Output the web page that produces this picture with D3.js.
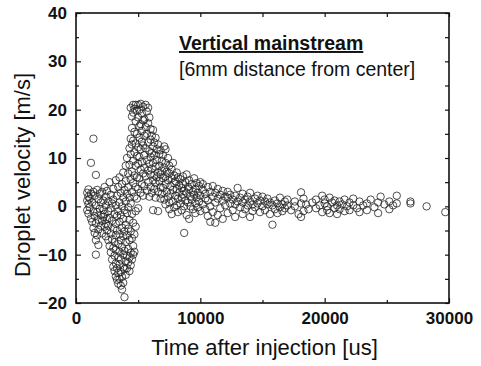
<!DOCTYPE html>
<html>
<head>
<meta charset="utf-8">
<script src="https://cdn.jsdelivr.net/npm/d3@7"></script>
<style>
  body { margin: 0; background: #fff; }
  svg { display: block; font-family: 'Liberation Sans', Arial, sans-serif; }
  .tick text { font-size: 17px; font-weight: bold; fill: #111; }
  .tick line { stroke: #111; stroke-width: 1.2; }
</style>
</head>
<body>
<div id="chart"></div>
<script>
// sample times [us] and the droplet velocities [m/s] read at each time
const sampleTimes = [
  900, 1000, 1100, 1200, 1300, 1400, 1500, 1600, 1700, 1800, 1900,
  2000, 2100, 2200, 2300, 2400, 2500, 2600, 2700, 2800, 2900,
  3000, 3100, 3200, 3300, 3400, 3500, 3600, 3700, 3800, 3900,
  4000, 4100, 4200, 4300, 4400, 4500, 4600, 4700, 4800, 4900,
  5000, 5100, 5200, 5300, 5400, 5500, 5600, 5700, 5800, 5900,
  6000, 6100, 6200, 6300, 6400, 6500, 6600, 6700, 6800, 6900,
  7000, 7100, 7200, 7300, 7400, 7500, 7600, 7700, 7800, 7900,
  8000, 8100, 8200, 8300, 8400, 8500, 8600, 8700, 8800, 8900,
  9000, 9100, 9200, 9300, 9400, 9500, 9600, 9700, 9800, 9900,
  10000, 10200, 10400, 10600, 10800, 11000, 11200, 11400, 11600, 11800,
  12000, 12200, 12400, 12600, 12800, 13000, 13200, 13400, 13600, 13800,
  14000, 14200, 14400, 14600, 14800, 15000, 15200, 15400, 15600, 15800,
  16000, 16200, 16400, 16600, 16800, 17000, 17300, 17600, 17900, 18100,
  18300, 18500, 18700, 19000, 19300, 19600, 19800, 20000, 20200, 20400,
  20600, 20800, 21000, 21200, 21400, 21600, 21800, 22000, 22300, 22600,
  22800, 23100, 23400, 23700, 24000, 24300, 24500, 24800, 25200, 25500,
  25800, 26900, 28200, 29700
]
const sampleVelocities = [
  [2.8, 1.2, -0.8], [3.5, 0.5, -1.5, 2.0], [1.6, -0.2], [9.0, 2.6, -2.5], [0.8, -3.2],
  [14.0, 3.0, -1.0, -4.5], [2.2, -2.0, -5.5], [6.5, -10.0, 0.2, -3.5, -7.0], [3.4, -1.2, -6.0],
  [1.5, -2.8, -4.8, -8.0], [2.6, -0.5],
  [-1.8, -4.0, 0.8], [3.0, -3.0, -5.6], [1.2, -0.8, -2.2], [4.0, -4.2, -1.6], [2.0, 0.2, -3.6, -6.2],
  [-2.6, -5.0, 3.2], [1.0, -1.0, -7.0, -4.0], [5.0, -2.4, -8.2], [2.4, -0.4, -5.6, -9.5],
  [-3.0, -6.8, 0.6, -11.0],
  [3.6, 1.4, -4.6, -8.6, -12.5], [-1.6, -7.4, -10.2, -13.4], [5.4, 0.2, -3.6, -6.0, -9.0, -11.8, -14.5],
  [2.2, -2.0, -5.0, -12.8, -15.2], [4.0, -1.0, -7.8, -10.6, -13.8, -16.0],
  [6.0, 0.8, -3.2, -5.8, -9.4, -12.0, -15.0], [2.8, -1.8, -7.0, -11.0, -13.6, -16.4],
  [4.6, 0.0, -4.4, -8.4, -14.6, -17.2], [7.0, 1.8, -2.6, -6.2, -10.0, -12.6, -15.8],
  [3.4, -0.8, -5.2, -9.2, -13.0, -18.8],
  [8.4, 5.2, 1.0, -3.8, -7.4, -11.4, -14.2], [10.0, 2.6, -1.4, -6.0, -10.2, -12.8],
  [6.8, 4.0, -0.2, -4.6, -8.8, -11.6], [12.0, 8.6, 1.8, -2.8, -7.0, -10.6, -13.4],
  [20.4, 14.0, 10.8, 5.6, 0.6, -5.2, -9.6, -12.2], [18.6, 16.2, 12.8, 7.2, 3.0, -1.6, -6.6, -11.0],
  [21.0, 19.4, 13.6, 9.4, 4.8, -3.4, -8.2, -10.0], [20.2, 15.4, 11.2, 6.4, 2.0, -5.8, -9.4],
  [21.0, 17.6, 13.0, 8.4, 4.0, -1.0, -4.2], [19.8, 15.0, 10.4, 6.0, 1.6],
  [21.0, 18.4, 12.2, 8.8, 3.6, -0.4], [20.0, 16.6, 14.2, 10.2, 5.8], [21.2, 17.0, 11.8, 7.6, 2.8],
  [19.2, 15.6, 13.4, 9.2, 4.6], [20.6, 17.8, 12.6, 6.8, 2.2], [18.0, 14.6, 10.6, 8.0, 4.2],
  [21.0, 16.4, 12.0, 6.2], [19.6, 15.0, 9.6, 3.2], [20.4, 17.2, 13.2, 7.4, 5.0], [18.4, 11.4, 8.8, 2.0],
  [16.0, 13.8, 10.2, 6.6, 4.0], [14.6, 11.0, 7.8, 2.8], [15.8, 12.4, 9.0, 5.4, -0.8],
  [13.2, 10.6, 6.4, 3.6], [14.2, 8.2, 4.8, 1.8], [11.8, 9.6, 6.0], [12.8, 7.0, 3.0, -1.0],
  [10.8, 8.4, 5.2], [11.6, 6.6, 4.0, 1.6], [9.4, 7.4, 2.6],
  [10.6, 5.8, 3.8], [12.4, 8.0, 1.4], [11.8, 9.0, 6.2, 4.6, 0.4], [7.2, 3.0], [10.0, 5.4, 2.0],
  [8.4, 6.8, 0.8, -0.6], [4.2, 2.6], [7.6, 5.8, -1.6], [9.0, 3.4, 1.0], [6.4, 4.8, -0.2],
  [5.2, 2.2], [7.0, 3.6, 0.2], [6.0, 1.6, -1.2], [4.4, 2.8], [5.6, 0.6],
  [3.8, 1.8, -0.8], [6.2, 4.6, 2.4], [-5.5, 3.2, 0.0], [5.0, 1.2], [6.6, 2.8, -1.8],
  [4.0, 0.8], [5.4, 3.6, -2.6], [2.0, 0.0], [4.6, 1.4], [3.0, -0.6],
  [5.8, 2.4], [3.6, 0.6, -1.4], [4.8, 1.8], [2.8, -0.2], [4.2, 1.0],
  [5.0, 2.2, -1.0], [3.4, 0.4, 4.6], [2.6, -0.6, 1.6], [4.0, 1.2, -2.0], [3.0, 0.0, -3.2],
  [2.0, 4.2, -1.2], [0.8, 2.8, -3.4], [3.6, 1.6, -1.8], [2.4, -0.4], [1.2, 3.2, -2.6],
  [0.2, 2.0], [1.8, -1.4, 3.0], [0.6, 2.4], [-0.8, 1.4], [2.2, 0.4, -2.2],
  [3.8, 1.0], [-0.2, 1.8], [0.8, -1.6, 2.6], [1.4, -0.6], [2.0, 0.2],
  [-2.2, 1.0, 2.8], [0.4, -1.0], [1.6, -0.2], [2.2, 0.6], [-1.2, 1.2],
  [0.0, 2.0], [1.0, -0.8], [0.4, 1.6], [-1.6, 0.8], [-3.8, 0.2],
  [1.2, -0.6], [0.6, -1.4], [1.8, -0.2], [-1.0, 0.4], [1.0, -0.4],
  [0.2, 1.4], [-0.8], [1.0, 0.0], [-1.6], [2.9, -2.2, 0.6],
  [1.6, -1.0], [0.4], [-0.6], [0.8], [-0.4, 1.4], [0.2], [2.2, -1.2], [0.6, 1.4], [-0.8, 0.0], [1.8, -1.4],
  [0.8], [-0.4, 1.2], [0.2, -1.6], [1.0, -0.6], [0.4], [-1.0, 1.4], [0.0], [0.8, -0.8], [1.6, 0.2], [-0.4],
  [1.0, -1.2], [0.2], [0.6, -0.8], [1.4], [-0.2], [0.8, -1.4], [2.0], [0.4], [1.0, -0.6], [0.2],
  [2.2, 0.6], [1.0, 0.6], [0.0], [-1.2]
]

const xTicks = [0, 10000, 20000, 30000]
const xMinorTicks = [5000, 15000, 25000]
const yTicks = [-20, -10, 0, 10, 20, 30, 40]
const yMinorTicks = [-15, -5, 5, 15, 25, 35]

// flatten into points
const points = []
sampleTimes.forEach(function (t, i) {
  sampleVelocities[i].forEach(function (v) {
    points.push({ t: t, v: v })
  })
})

const width = 481
const height = 366
const plotLeft = 76
const plotRight = 449
const plotTop = 13
const plotBottom = 303

const x = d3.scaleLinear().domain([0, 30000]).range([plotLeft, plotRight])
const y = d3.scaleLinear().domain([-20, 40]).range([plotBottom, plotTop])

const svg = d3.select('#chart').append('svg')
  .attr('width', width)
  .attr('height', height)

// scatter points
svg.append('g')
  .selectAll('circle')
  .data(points)
  .enter().append('circle')
  .attr('cx', function (d) { return x(d.t) })
  .attr('cy', function (d) { return y(d.v) })
  .attr('r', 3.7)
  .attr('fill', 'none')
  .attr('stroke', '#222')
  .attr('stroke-width', 0.8)

// axes with inward ticks
svg.append('g')
  .attr('transform', 'translate(0,' + plotBottom + ')')
  .call(d3.axisBottom(x).tickValues(xTicks).tickSize(-5).tickSizeOuter(0).tickPadding(9).tickFormat(d3.format('d')))
svg.append('g')
  .attr('transform', 'translate(0,' + plotBottom + ')')
  .call(d3.axisBottom(x).tickValues(xMinorTicks).tickSize(-3).tickSizeOuter(0).tickFormat(''))
svg.append('g')
  .attr('transform', 'translate(0,' + plotTop + ')')
  .call(d3.axisTop(x).tickValues(xTicks.concat(xMinorTicks)).tickSize(-4).tickSizeOuter(0).tickFormat(''))

svg.append('g')
  .attr('transform', 'translate(' + plotLeft + ',0)')
  .call(d3.axisLeft(y).tickValues(yTicks).tickSize(-5).tickSizeOuter(0).tickPadding(9))
svg.append('g')
  .attr('transform', 'translate(' + plotLeft + ',0)')
  .call(d3.axisLeft(y).tickValues(yMinorTicks).tickSize(-3).tickSizeOuter(0).tickFormat(''))
svg.append('g')
  .attr('transform', 'translate(' + plotRight + ',0)')
  .call(d3.axisRight(y).tickValues(yTicks.concat(yMinorTicks)).tickSize(-4).tickSizeOuter(0).tickFormat(''))

svg.selectAll('.domain').remove()

// frame
svg.append('rect')
  .attr('x', plotLeft)
  .attr('y', plotTop)
  .attr('width', plotRight - plotLeft)
  .attr('height', plotBottom - plotTop)
  .attr('fill', 'none')
  .attr('stroke', '#111')
  .attr('stroke-width', 1.6)

// axis titles
svg.append('text')
  .attr('x', (plotLeft + plotRight) / 2 + 2)
  .attr('y', 355)
  .attr('text-anchor', 'middle')
  .style('font-size', '22px')
  .style('fill', '#111')
  .text('Time after injection [us]')

svg.append('text')
  .attr('transform', 'translate(30,175) rotate(-90)')
  .attr('text-anchor', 'middle')
  .style('font-size', '22px')
  .style('fill', '#111')
  .text('Droplet velocity [m/s]')

// annotation
svg.append('text')
  .attr('x', 179)
  .attr('y', 50)
  .style('font-size', '19.5px')
  .style('font-weight', 'bold')
  .style('text-decoration', 'underline')
  .style('fill', '#111')
  .text('Vertical mainstream')

svg.append('text')
  .attr('x', 179)
  .attr('y', 76)
  .style('font-size', '19.5px')
  .style('fill', '#111')
  .text('[6mm distance from center]')
</script>
</body>
</html>
